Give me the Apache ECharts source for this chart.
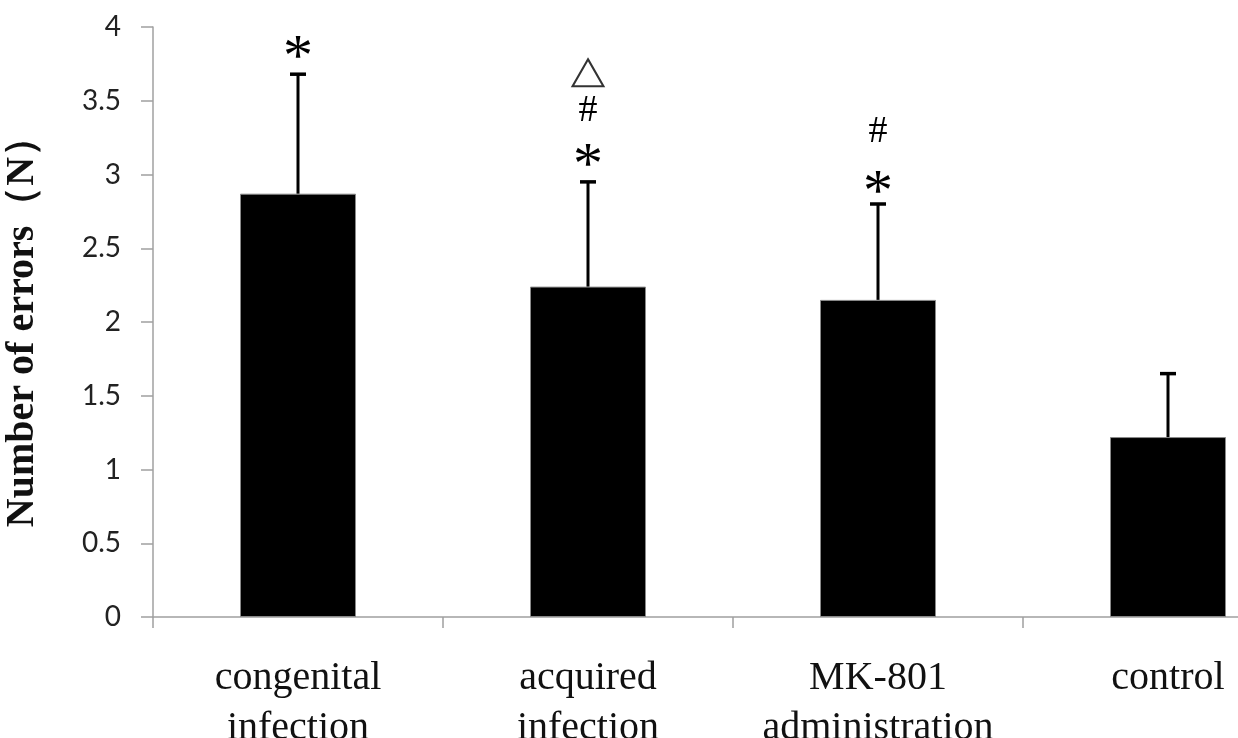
<!DOCTYPE html>
<html>
<head>
<meta charset="utf-8">
<script src="https://cdn.jsdelivr.net/npm/echarts@6/dist/echarts.min.js"></script>
<style>
  html, body { margin: 0; padding: 0; background: #fff; }
  #chart { width: 1238px; height: 738px; }
</style>
</head>
<body>
<div id="chart"></div>
<script>
// data
const categories = ['congenital\ninfection', 'acquired\ninfection', 'MK-801\nadministration', 'control'];
const means = [2.87, 2.24, 2.15, 1.22];
const sds = [0.81, 0.71, 0.65, 0.43];
const yTicks = [0, 0.5, 1, 1.5, 2, 2.5, 3, 3.5, 4];

// significance marks: [categoryIndex, yValue]
const starMarks = [[0, 3.86], [1, 3.13], [2, 2.95]];
const hashMarks = [[1, 3.43], [2, 3.29]];
const triangleMarks = [[1, 3.69]];

const chart = echarts.init(document.getElementById('chart'));

const serif = '"Liberation Serif", "Times New Roman", serif';

// text mark drawn at a data point
function textMark(txt, size, dy) {
  return function (params, api) {
    const p = api.coord([api.value(0), api.value(1)]);
    return {
      type: 'text',
      x: p[0],
      y: p[1] + dy,
      style: {
        text: txt,
        fontFamily: serif,
        fontSize: size,
        fill: '#000',
        align: 'center',
        verticalAlign: 'middle'
      }
    };
  };
}

const option = {
  animation: false,
  backgroundColor: '#fff',
  grid: {
    left: 153,
    top: 27,
    height: 590,
    width: 1160,  // plot runs past the right edge like the original
    outerBoundsMode: 'none',
    containLabel: false
  },
  xAxis: {
    type: 'category',
    data: categories,
    axisLine: { lineStyle: { color: '#a0a0a0', width: 1.5 } },
    axisTick: { show: true, length: 11, lineStyle: { color: '#a0a0a0', width: 1.5 } },
    axisLabel: {
      color: '#111',
      fontFamily: serif,
      fontSize: 40,
      lineHeight: 50,
      margin: 36,
      interval: 0
    }
  },
  yAxis: {
    type: 'value',
    min: yTicks[0],
    max: yTicks[yTicks.length - 1],
    interval: 0.5,
    name: 'Number of errors（N）',
    nameLocation: 'middle',
    nameGap: 110,
    nameTextStyle: {
      color: '#111',
      fontFamily: serif,
      fontWeight: 'bold',
      fontSize: 40
    },
    splitLine: { show: false },
    axisLine: { show: true, lineStyle: { color: '#a0a0a0', width: 1.5 } },
    axisTick: { show: true, length: 12, lineStyle: { color: '#a0a0a0', width: 1.5 } },
    axisLabel: {
      color: '#222',
      fontFamily: 'Lato, "Open Sans", sans-serif',
      fontSize: 28,
      margin: 32
    }
  },
  series: [
    {
      type: 'bar',
      data: means,
      barWidth: '40%',
      itemStyle: { color: '#000', borderColor: '#8a8a8a', borderWidth: 1 },
      z: 2
    },
    {
      // error bars (upper half only)
      type: 'custom',
      data: means.map((m, i) => [i, m, m + sds[i]]),
      renderItem: function (params, api) {
        const base = api.coord([api.value(0), api.value(1)]);
        const top = api.coord([api.value(0), api.value(2)]);
        const half = 8;
        return {
          type: 'group',
          children: [
            {
              type: 'line',
              shape: { x1: base[0], y1: base[1], x2: top[0], y2: top[1] },
              style: { stroke: '#000', lineWidth: 3 }
            },
            {
              type: 'line',
              shape: { x1: top[0] - half, y1: top[1], x2: top[0] + half, y2: top[1] },
              style: { stroke: '#000', lineWidth: 3.5 }
            }
          ]
        };
      },
      z: 3
    },
    {
      type: 'custom',
      data: starMarks,
      renderItem: textMark('*', 60, 12),
      z: 4
    },
    {
      type: 'custom',
      data: hashMarks,
      renderItem: textMark('#', 38, 0),
      z: 4
    },
    {
      type: 'scatter',
      data: triangleMarks,
      symbol: 'triangle',
      symbolSize: [31, 27],
      itemStyle: { color: '#fff', borderColor: '#000', borderWidth: 2 },
      z: 4
    }
  ]
};

chart.setOption(option);
</script>
</body>
</html>
